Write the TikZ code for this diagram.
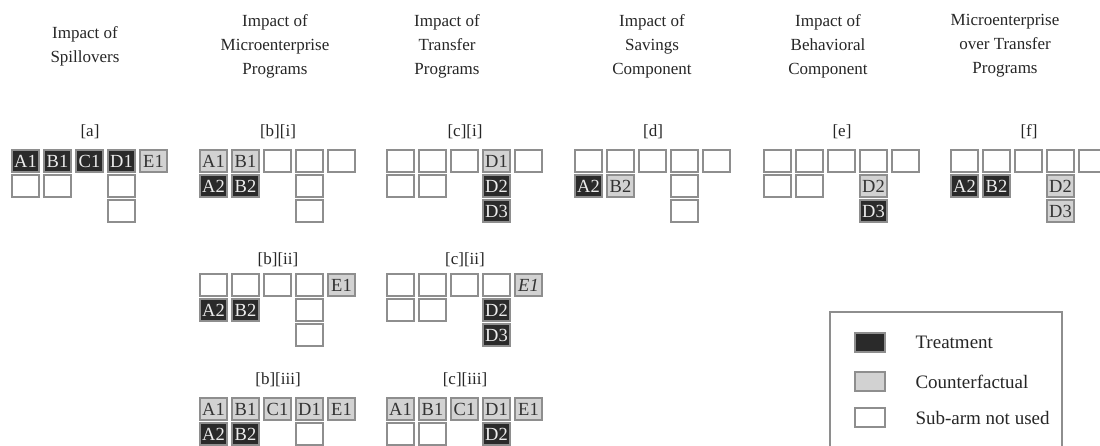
\documentclass[tikz,border=0pt]{standalone}
\usepackage{fontspec}
\setmainfont{Liberation Serif}
\usepackage{tikz}
\usetikzlibrary{shapes}
\usetikzlibrary{positioning}
\definecolor{armline}{HTML}{8E8E8E}
\definecolor{treatfill}{HTML}{2A2A2A}
\definecolor{cfactfill}{HTML}{D2D2D2}
\newcommand\armfont{\fontsize{18.5}{18.5}\selectfont}
\newcommand\headfont{\fontsize{17}{24}\selectfont}
\tikzstyle{arm}=[rectangle,draw=armline,line width=1.2pt,inner sep=0mm,minimum width=27pt,minimum height=22pt,font=\armfont]
\tikzstyle{treat}=[arm,fill=treatfill,text=white!92!black]
\tikzstyle{cfact}=[arm,fill=cfactfill,text=black!80]
\tikzstyle{unused}=[arm,fill=white]
\tikzstyle{head}=[align=center,font=\headfont,text=black!85]
\tikzstyle{panel}=[font=\headfont,text=black!85]
\tikzstyle{legtext}=[anchor=west,font=\fontsize{19}{19}\selectfont,text=black!85]
\tikzset{every picture/.style={
    x=1pt,y=-1pt
  }
}
\begin{document}
\begin{tikzpicture}
      \useasboundingbox (0,0) rectangle (1100,445);
      \node[head] at (85,46) (h1) {Impact of\\Spillovers};
      \node[head] at (275,46) (h2) {Impact of\\Microenterprise\\Programs};
      \node[head] at (447,46) (h3) {Impact of\\Transfer\\Programs};
      \node[head] at (652,46) (h4) {Impact of\\Savings\\Component};
      \node[head] at (828,46) (h5) {Impact of\\Behavioral\\Component};
      \node[head] at (1005,46) (h6) {Microenterprise\\over Transfer\\Programs};
      % [a]
      \node[panel] at (90,132) (pa) {[a]};
      \node[treat] at (25.5,161) (aA1) {A1};
      \node[treat] at (57.5,161) (aB1) {B1};
      \node[treat] at (89.5,161) (aC1) {C1};
      \node[treat] at (121.5,161) (aD1) {D1};
      \node[cfact] at (153.5,161) (aE1) {E1};
      \node[unused] at (25.5,186) (aA2) {};
      \node[unused] at (57.5,186) (aB2) {};
      \node[unused] at (121.5,186) (aD2) {};
      \node[unused] at (121.5,211) (aD3) {};
      % [b][i]
      \node[panel] at (278,132) (pbi) {[b][i]};
      \node[cfact] at (213.5,161) (biA1) {A1};
      \node[cfact] at (245.5,161) (biB1) {B1};
      \node[unused] at (277.5,161) (biC1) {};
      \node[unused] at (309.5,161) (biD1) {};
      \node[unused] at (341.5,161) (biE1) {};
      \node[treat] at (213.5,186) (biA2) {A2};
      \node[treat] at (245.5,186) (biB2) {B2};
      \node[unused] at (309.5,186) (biD2) {};
      \node[unused] at (309.5,211) (biD3) {};
      % [c][i]
      \node[panel] at (465,132) (pci) {[c][i]};
      \node[unused] at (400.5,161) (ciA1) {};
      \node[unused] at (432.5,161) (ciB1) {};
      \node[unused] at (464.5,161) (ciC1) {};
      \node[cfact] at (496.5,161) (ciD1) {D1};
      \node[unused] at (528.5,161) (ciE1) {};
      \node[unused] at (400.5,186) (ciA2) {};
      \node[unused] at (432.5,186) (ciB2) {};
      \node[treat] at (496.5,186) (ciD2) {D2};
      \node[treat] at (496.5,211) (ciD3) {D3};
      % [d]
      \node[panel] at (653,132) (pd) {[d]};
      \node[unused] at (588.5,161) (dA1) {};
      \node[unused] at (620.5,161) (dB1) {};
      \node[unused] at (652.5,161) (dC1) {};
      \node[unused] at (684.5,161) (dD1) {};
      \node[unused] at (716.5,161) (dE1) {};
      \node[treat] at (588.5,186) (dA2) {A2};
      \node[cfact] at (620.5,186) (dB2) {B2};
      \node[unused] at (684.5,186) (dD2) {};
      \node[unused] at (684.5,211) (dD3) {};
      % [e]
      \node[panel] at (842,132) (pe) {[e]};
      \node[unused] at (777.5,161) (eA1) {};
      \node[unused] at (809.5,161) (eB1) {};
      \node[unused] at (841.5,161) (eC1) {};
      \node[unused] at (873.5,161) (eD1) {};
      \node[unused] at (905.5,161) (eE1) {};
      \node[unused] at (777.5,186) (eA2) {};
      \node[unused] at (809.5,186) (eB2) {};
      \node[cfact] at (873.5,186) (eD2) {D2};
      \node[treat] at (873.5,211) (eD3) {D3};
      % [f]
      \node[panel] at (1029,132) (pf) {[f]};
      \node[unused] at (964.5,161) (fA1) {};
      \node[unused] at (996.5,161) (fB1) {};
      \node[unused] at (1028.5,161) (fC1) {};
      \node[unused] at (1060.5,161) (fD1) {};
      \node[unused] at (1092.5,161) (fE1) {};
      \node[treat] at (964.5,186) (fA2) {A2};
      \node[treat] at (996.5,186) (fB2) {B2};
      \node[cfact] at (1060.5,186) (fD2) {D2};
      \node[cfact] at (1060.5,211) (fD3) {D3};
      % [b][ii]
      \node[panel] at (278,260) (pbii) {[b][ii]};
      \node[unused] at (213.5,285) (biiA1) {};
      \node[unused] at (245.5,285) (biiB1) {};
      \node[unused] at (277.5,285) (biiC1) {};
      \node[unused] at (309.5,285) (biiD1) {};
      \node[cfact] at (341.5,285) (biiE1) {E1};
      \node[treat] at (213.5,310) (biiA2) {A2};
      \node[treat] at (245.5,310) (biiB2) {B2};
      \node[unused] at (309.5,310) (biiD2) {};
      \node[unused] at (309.5,335) (biiD3) {};
      % [c][ii]
      \node[panel] at (465,260) (pcii) {[c][ii]};
      \node[unused] at (400.5,285) (ciiA1) {};
      \node[unused] at (432.5,285) (ciiB1) {};
      \node[unused] at (464.5,285) (ciiC1) {};
      \node[unused] at (496.5,285) (ciiD1) {};
      \node[cfact] at (528.5,285) (ciiE1) {\textit{E1}};
      \node[unused] at (400.5,310) (ciiA2) {};
      \node[unused] at (432.5,310) (ciiB2) {};
      \node[treat] at (496.5,310) (ciiD2) {D2};
      \node[treat] at (496.5,335) (ciiD3) {D3};
      % [b][iii]
      \node[panel] at (278,380) (pbiii) {[b][iii]};
      \node[cfact] at (213.5,409) (biiiA1) {A1};
      \node[cfact] at (245.5,409) (biiiB1) {B1};
      \node[cfact] at (277.5,409) (biiiC1) {C1};
      \node[cfact] at (309.5,409) (biiiD1) {D1};
      \node[cfact] at (341.5,409) (biiiE1) {E1};
      \node[treat] at (213.5,434) (biiiA2) {A2};
      \node[treat] at (245.5,434) (biiiB2) {B2};
      \node[unused] at (309.5,434) (biiiD2) {};
      % [c][iii]
      \node[panel] at (465,380) (pciii) {[c][iii]};
      \node[cfact] at (400.5,409) (ciiiA1) {A1};
      \node[cfact] at (432.5,409) (ciiiB1) {B1};
      \node[cfact] at (464.5,409) (ciiiC1) {C1};
      \node[cfact] at (496.5,409) (ciiiD1) {D1};
      \node[cfact] at (528.5,409) (ciiiE1) {E1};
      \node[unused] at (400.5,434) (ciiiA2) {};
      \node[unused] at (432.5,434) (ciiiB2) {};
      \node[treat] at (496.5,434) (ciiiD2) {D2};
      % legend
      \draw[draw=armline,line width=1.2pt] (830,312) rectangle (1062,447);
      \node[treat,minimum width=30pt,minimum height=19pt] at (870,342.5) (legT) {};
      \node[cfact,minimum width=30pt,minimum height=19pt] at (870,381.5) (legC) {};
      \node[unused,minimum width=30pt,minimum height=19pt] at (870,417.5) (legU) {};
      \node[legtext] at (912,342.5) (legTt) {Treatment};
      \node[legtext] at (912,381.5) (legCt) {Counterfactual};
      \node[legtext] at (912,417.5) (legUt) {Sub-arm not used};
    \end{tikzpicture}
\end{document}
